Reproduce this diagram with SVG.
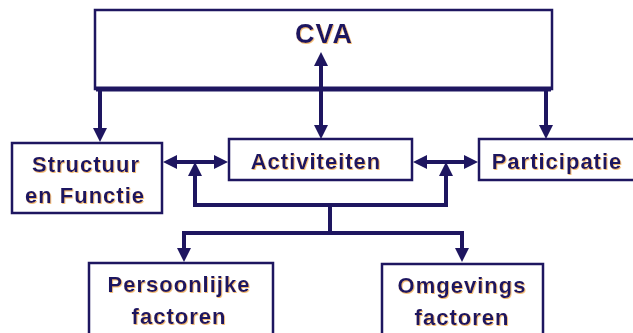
<svg xmlns="http://www.w3.org/2000/svg" width="633" height="333" viewBox="0 0 633 333">
  <defs>
    <style>
      .box { fill: #ffffff; stroke: #1e1660; stroke-width: 2.5; }
      .lbl { font-family: "Liberation Sans", Arial, sans-serif; font-weight: bold; font-size: 22px; letter-spacing: 1px; fill: #1e1660; text-anchor: middle; filter: url(#sh); }
      .con { fill: none; stroke: #1e1660; stroke-width: 4; stroke-linejoin: miter; }
    </style>
    <filter id="sh" x="-5%" y="-20%" width="110%" height="140%">
      <feDropShadow dx="0.8" dy="1" stdDeviation="0" flood-color="#f0a848" flood-opacity="0.8"/>
    </filter>
    <marker id="ah" markerUnits="userSpaceOnUse" viewBox="0 0 14 14" refX="1" refY="7" markerWidth="14" markerHeight="14" orient="auto-start-reverse">
      <path d="M0,0 L14,7 L0,14 Z" fill="#1e1660"/>
    </marker>
  </defs>

  <g id="cva">
    <rect class="box" x="95" y="10" width="457" height="79"/>
    <text class="lbl" x="324" y="43" style="font-size:27px">CVA</text>
  </g>
  <g id="structuur">
    <rect class="box" x="12" y="143" width="150" height="70"/>
    <text class="lbl" x="86" y="172">Structuur</text>
    <text class="lbl" x="85" y="203">en Functie</text>
  </g>
  <g id="activiteiten">
    <rect class="box" x="229" y="139" width="183" height="41"/>
    <text class="lbl" x="316" y="169">Activiteiten</text>
  </g>
  <g id="participatie">
    <rect class="box" x="479" y="139" width="165" height="41"/>
    <text class="lbl" x="557" y="169">Participatie</text>
  </g>
  <g id="persoonlijke">
    <rect class="box" x="89" y="263" width="184" height="80"/>
    <text class="lbl" x="179" y="292">Persoonlijke</text>
    <text class="lbl" x="179" y="324">factoren</text>
  </g>
  <g id="omgevings">
    <rect class="box" x="382" y="264" width="161" height="80"/>
    <text class="lbl" x="462" y="293">Omgevings</text>
    <text class="lbl" x="462" y="325">factoren</text>
  </g>

  <g id="connectors">
    <line class="con" x1="96" y1="89" x2="551" y2="89" style="stroke-width:5"/>
    <path class="con" d="M100,89 V129" marker-end="url(#ah)"/>
    <path class="con" d="M546,89 V126" marker-end="url(#ah)"/>
    <path class="con" d="M321,65 V126" marker-start="url(#ah)" marker-end="url(#ah)"/>
    <path class="con" d="M176,162 H215" marker-start="url(#ah)" marker-end="url(#ah)"/>
    <path class="con" d="M426,162 H465" marker-start="url(#ah)" marker-end="url(#ah)"/>
    <path class="con" d="M195,175 V205 H446 V175" marker-start="url(#ah)" marker-end="url(#ah)"/>
    <line class="con" x1="330" y1="205" x2="330" y2="233"/>
    <path class="con" d="M184,249 V233 H462 V249" marker-start="url(#ah)" marker-end="url(#ah)"/>
  </g>
</svg>
